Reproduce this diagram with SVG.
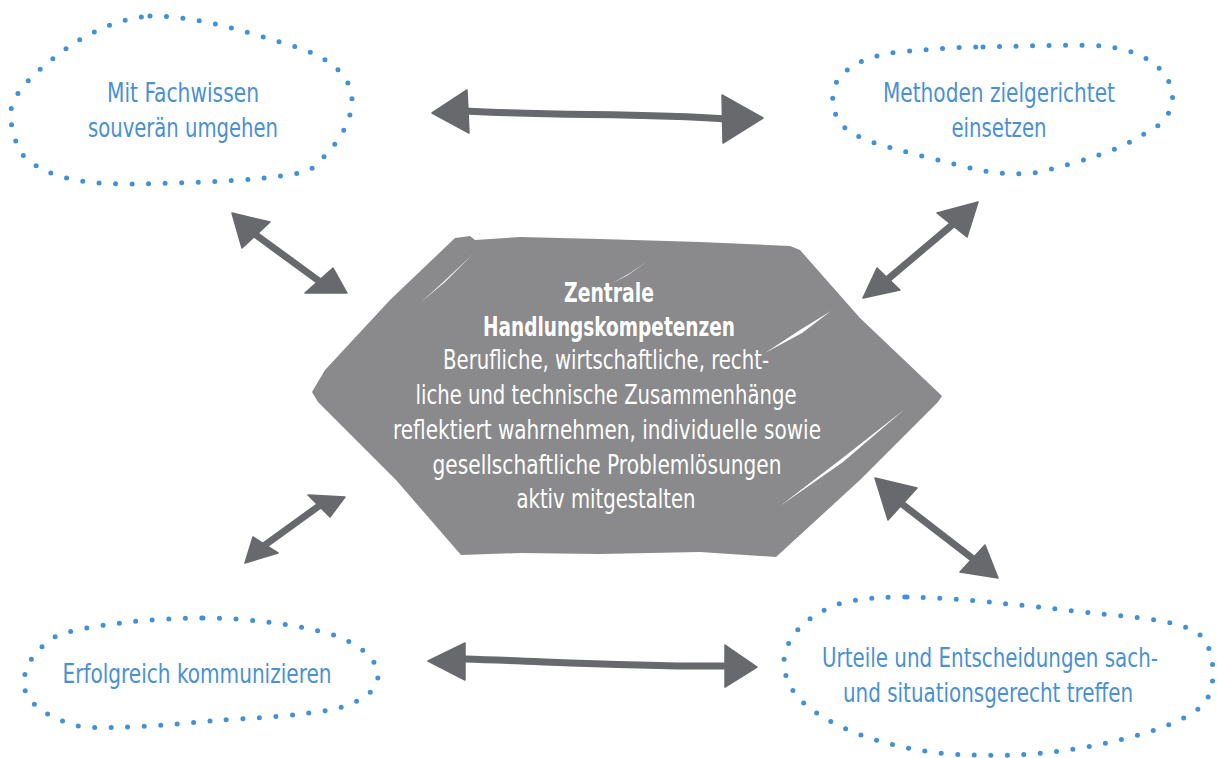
<svg xmlns="http://www.w3.org/2000/svg" width="1217" height="758" viewBox="0 0 1217 758">
<style>
.blob{fill:none;stroke:#4191d4;stroke-width:5;stroke-linecap:round;stroke-dasharray:0 16.5}
.bt{fill:#4a90d2;font-family:"Liberation Sans Narrow","DejaVu Sans Condensed","Liberation Sans",sans-serif;font-size:26px;text-anchor:middle}
.ct{fill:#ffffff;font-family:"Liberation Sans Narrow","DejaVu Sans Condensed","Liberation Sans",sans-serif;font-size:27px;text-anchor:middle}
.ct.b{font-weight:bold}
.shaft{fill:none;stroke:#68696d;stroke-width:7;stroke-linecap:round}
.head{fill:#68696d;stroke:#68696d;stroke-width:1.5;stroke-linejoin:round}
.scr{fill:#ffffff}
</style>
<rect width="1217" height="758" fill="#ffffff"/>
<g id="center">
<path d="M455,238 L470,236 L475,240 L520,237 L600,239 L700,242 L790,246 L800,250 L860,318 L942,396 L938,402 L860,480 L776,557 L700,552 L600,554 L520,553 L461,555 L396,480 L318,402 L312,392 L325,370 L390,300 Z" fill="#8a8a8c"/>
<path class="scr" d="M473,254 L440,285 L420,303 L445,282 Z"/>
<path class="scr" d="M648,261 L628,275 L611,284 L630,273 Z"/>
<path class="scr" d="M831,311 L800,330 L765,353 L802,333 Z"/>
<path class="scr" d="M905,409 L840,460 L780,506 L843,462 Z"/>
<text class="ct b" x="609" y="302" textLength="90" lengthAdjust="spacingAndGlyphs">Zentrale</text>
<text class="ct b" x="609" y="336" textLength="252" lengthAdjust="spacingAndGlyphs">Handlungskompetenzen</text>
<text class="ct" x="606" y="369" textLength="326" lengthAdjust="spacingAndGlyphs">Berufliche, wirtschaftliche, recht-</text>
<text class="ct" x="606" y="404" textLength="381" lengthAdjust="spacingAndGlyphs">liche und technische Zusammenhänge</text>
<text class="ct" x="607" y="439" textLength="428" lengthAdjust="spacingAndGlyphs">reflektiert wahrnehmen, individuelle sowie</text>
<text class="ct" x="607" y="474" textLength="349" lengthAdjust="spacingAndGlyphs">gesellschaftliche Problemlösungen</text>
<text class="ct" x="606" y="508" textLength="179" lengthAdjust="spacingAndGlyphs">aktiv mitgestalten</text>
</g>
<g id="n-fachwissen">
<path class="blob" d="M150,16 C200,16 250,33 300,48 C333,60 352,78 352,100 C352,126 333,150 310,170 C280,180 200,183 130,184 C80,184 50,178 25,158 C12,140 10,120 11,110 C14,90 40,68 67,48 C90,32 120,18 150,16 Z"/>
<text class="bt" x="183" y="102" textLength="152" lengthAdjust="spacingAndGlyphs">Mit Fachwissen</text>
<text class="bt" x="183" y="137" textLength="190" lengthAdjust="spacingAndGlyphs">souverän umgehen</text>
</g>
<g id="n-methoden">
<path class="blob" d="M983,47 C1030,46 1080,44 1103,46 C1140,50 1165,65 1172,90 C1175,110 1165,125 1142,135 C1120,150 1080,162 1040,172 C1000,178 970,168 930,158 C890,148 858,140 845,128 C833,117 830,100 835,85 C845,65 870,55 900,52 C930,49 960,47 983,47 Z"/>
<text class="bt" x="999" y="102" textLength="232" lengthAdjust="spacingAndGlyphs">Methoden zielgerichtet</text>
<text class="bt" x="999" y="137" textLength="95" lengthAdjust="spacingAndGlyphs">einsetzen</text>
</g>
<g id="n-kommunizieren">
<path class="blob" d="M203,618 C250,618 300,625 330,634 C360,643 378,660 378,675 C378,692 360,702 335,709 C300,716 250,718 210,721 C170,725 120,729 83,727 C50,720 30,705 25,690 C20,670 35,648 58,635 C90,625 150,618 203,618 Z"/>
<text class="bt" x="197" y="683" textLength="269" lengthAdjust="spacingAndGlyphs">Erfolgreich kommunizieren</text>
</g>
<g id="n-urteile">
<path class="blob" d="M907,597 C960,598 1020,605 1083,612 C1140,618 1190,620 1205,640 C1216,660 1216,690 1203,705 C1185,722 1140,738 1080,748 C1040,755 1000,757 950,754 C900,750 850,735 820,715 C795,700 783,680 784,660 C786,635 810,612 845,602 C865,598 885,597 907,597 Z"/>
<text class="bt" x="990" y="667" textLength="336" lengthAdjust="spacingAndGlyphs">Urteile und Entscheidungen sach-</text>
<text class="bt" x="988" y="702" textLength="290" lengthAdjust="spacingAndGlyphs">und situationsgerecht treffen</text>
</g>
<g id="connectors">
<path class="shaft" d="M465,111 C560,116 640,113 727,119"/>
<path class="head" d="M432,113 L467,90 L469,133 Z"/>
<path class="head" d="M763,118 L722,95 L723,143 Z"/>
<path class="shaft" d="M465,659 C560,662 640,667 727,666"/>
<path class="head" d="M428,661 L465,643 L465,680 Z"/>
<path class="head" d="M757,667 L725,645 L725,687 Z"/>
<path class="shaft" d="M256,235 L319,281"/>
<path class="head" d="M232,213 L270,222 L242,248 Z"/>
<path class="head" d="M347,293 L333,268 L305,293 Z"/>
<path class="shaft" d="M952,225 L888,279"/>
<path class="head" d="M978,202 L937,213 L967,237 Z"/>
<path class="head" d="M863,298 L877,268 L900,290 Z"/>
<path class="shaft" d="M319,506 L265,545"/>
<path class="head" d="M345,497 L308,495 L330,517 Z"/>
<path class="head" d="M245,563 L253,537 L278,553 Z"/>
<path class="shaft" d="M902,504 L972,558"/>
<path class="head" d="M875,478 L917,488 L888,520 Z"/>
<path class="head" d="M998,578 L985,545 L960,572 Z"/>
</g>
</svg>
